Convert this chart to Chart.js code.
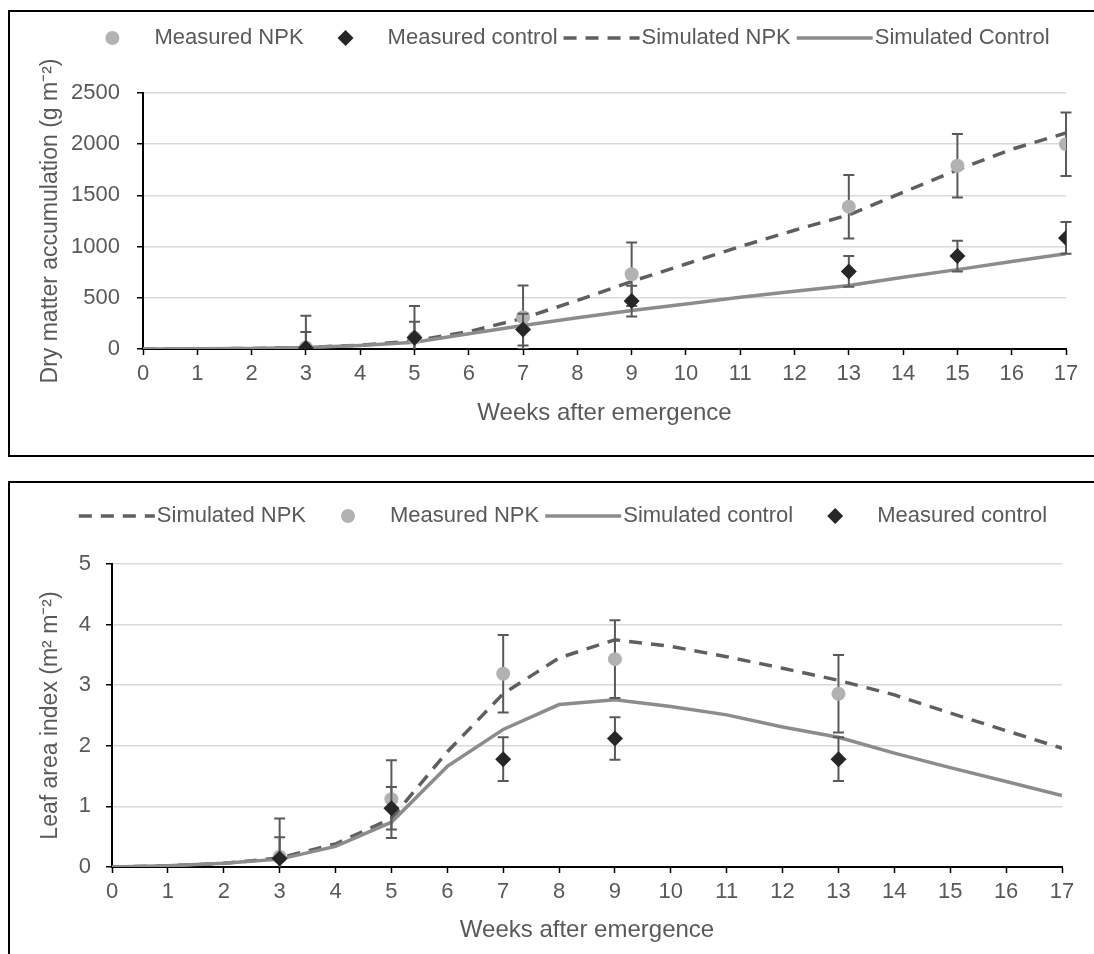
<!DOCTYPE html>
<html>
<head>
<meta charset="utf-8">
<script src="https://cdn.jsdelivr.net/npm/chart.js@4.4.1/dist/chart.umd.min.js"></script>
<style>
html, body { margin: 0; padding: 0; background: #fff; overflow: hidden; }
body { width: 1094px; height: 954px; position: relative; }
.box { position: absolute; border: 2px solid #000; box-sizing: border-box; }
canvas { position: absolute; }
</style>
</head>
<body>
<div class="box" style="left:8px;top:10px;width:1100px;height:447px"></div>
<div class="box" style="left:8px;top:481px;width:1100px;height:500px"></div>
<canvas id="dm" width="1084" height="442" style="left:10px;top:12px"></canvas>
<canvas id="lai" width="1084" height="470" style="left:10px;top:484px"></canvas>
<script>
// weeks after emergence for the simulated curves
const weeks = [0, 1, 2, 3, 4, 5, 6, 7, 8, 9, 10, 11, 12, 13, 14, 15, 16, 17];

// dry matter (g m-2)
const simNpkDm = [0, 2, 5, 15, 38, 78, 170, 300, 475, 660, 830, 1000, 1160, 1310, 1530, 1750, 1950, 2110];
const simCtrlDm = [0, 2, 5, 15, 35, 65, 148, 230, 305, 375, 440, 505, 565, 620, 700, 775, 855, 930];
const measDmWeeks = [3, 5, 7, 9, 13, 15, 17];
const measNpkDm = [15, 110, 310, 730, 1390, 1790, 2000];
const measNpkDmErr = [310, 310, 310, 310, 310, 310, 310];
const measCtrlDm = [10, 110, 190, 468, 758, 908, 1085];
const measCtrlDmErr = [155, 155, 155, 150, 150, 150, 155];

// leaf area index (m2 m-2)
const simNpkLai = [0, 0.02, 0.06, 0.15, 0.38, 0.8, 1.9, 2.86, 3.45, 3.75, 3.64, 3.47, 3.28, 3.08, 2.84, 2.54, 2.25, 1.96];
const simCtrlLai = [0, 0.02, 0.06, 0.13, 0.34, 0.74, 1.66, 2.27, 2.68, 2.76, 2.65, 2.51, 2.31, 2.14, 1.88, 1.64, 1.41, 1.18];
const measLaiWeeks = [3, 5, 7, 9, 13];
const measNpkLai = [0.17, 1.12, 3.19, 3.43, 2.86];
const measNpkLaiErr = [0.63, 0.64, 0.64, 0.64, 0.64];
const measCtrlLai = [0.14, 0.97, 1.78, 2.12, 1.78];
const measCtrlLaiErr = [0.35, 0.35, 0.36, 0.35, 0.36];

const FONT = "Arial, 'Liberation Sans', sans-serif";
const TEXT = '#595959';
Chart.defaults.font.family = FONT;
Chart.defaults.font.size = 22;
Chart.defaults.color = TEXT;

const pts = (xs, ys) => xs.map((x, i) => ({ x: x, y: ys[i] }));

const npkPoint = (label, xs, ys, errs) => ({
    label, data: pts(xs, ys), errors: errs,
    pointStyle: 'circle', pointRadius: 7, backgroundColor: '#b2b2b2', borderColor: '#b2b2b2', borderWidth: 0
});
const ctrlPoint = (label, xs, ys, errs) => ({
    label, data: pts(xs, ys), errors: errs,
    pointStyle: 'rectRot', pointRadius: 8, backgroundColor: '#262626', borderColor: '#262626', borderWidth: 0
});
const npkLine = (label, ys) => ({
    label, data: pts(weeks, ys), showLine: true, pointRadius: 0,
    borderColor: '#5f5f5f', borderWidth: 3.5, borderDash: [13, 9], tension: 0
});
const ctrlLine = (label, ys) => ({
    label, data: pts(weeks, ys), showLine: true, pointRadius: 0,
    borderColor: '#8c8c8c', borderWidth: 3.5, tension: 0
});

// error bars, drawn just under each measured series
const errorBars = {
    id: 'errorBars',
    beforeDatasetDraw(chart, args) {
        const ds = chart.data.datasets[args.index];
        if (!ds.errors) return;
        const xs = chart.scales.x, ys = chart.scales.y, a = chart.chartArea;
        const ctx = chart.ctx;
        ctx.save();
        ctx.beginPath();
        ctx.rect(a.left - 20, a.top, a.right - a.left + 40, a.bottom - a.top);
        ctx.clip();
        ctx.strokeStyle = '#595959';
        ctx.lineWidth = 2;
        ds.data.forEach((p, i) => {
            const px = xs.getPixelForValue(p.x);
            const top = ys.getPixelForValue(p.y + ds.errors[i]);
            const bot = ys.getPixelForValue(p.y - ds.errors[i]);
            ctx.beginPath();
            ctx.moveTo(px, top); ctx.lineTo(px, bot);
            ctx.moveTo(px - 5.5, top); ctx.lineTo(px + 5.5, top);
            ctx.moveTo(px - 5.5, bot); ctx.lineTo(px + 5.5, bot);
            ctx.stroke();
        });
        ctx.restore();
    }
};

// legend in the excel style: marker slot then label
const seriesLegend = {
    id: 'seriesLegend',
    afterDraw(chart, args, opts) {
        const ctx = chart.ctx;
        const slot = 82, gap = 2;
        ctx.save();
        ctx.font = '22px ' + FONT;
        const items = opts.order.map(i => chart.data.datasets[i]);
        const widths = items.map(ds => slot + ctx.measureText(ds.label).width);
        const total = widths.reduce((a, b) => a + b, 0) + gap * (widths.length - 1);
        let x = opts.centerX - total / 2;
        const y = opts.y;
        items.forEach((ds, i) => {
            if (ds.showLine) {
                ctx.strokeStyle = ds.borderColor;
                ctx.lineWidth = ds.borderWidth;
                ctx.setLineDash(ds.borderDash || []);
                ctx.beginPath();
                ctx.moveTo(x + 4, y); ctx.lineTo(x + 80, y);
                ctx.stroke();
                ctx.setLineDash([]);
            } else {
                ctx.fillStyle = ds.backgroundColor;
                ctx.beginPath();
                const cx = x + 40;
                if (ds.pointStyle === 'circle') {
                    ctx.arc(cx, y, ds.pointRadius, 0, Math.PI * 2);
                } else {
                    const r = ds.pointRadius;
                    ctx.moveTo(cx, y - r); ctx.lineTo(cx + r, y);
                    ctx.lineTo(cx, y + r); ctx.lineTo(cx - r, y);
                    ctx.closePath();
                }
                ctx.fill();
            }
            ctx.fillStyle = TEXT;
            ctx.textAlign = 'left';
            ctx.textBaseline = 'middle';
            ctx.fillText(ds.label, x + slot, y);
            x += widths[i] + gap;
        });
        ctx.restore();
    }
};

function scales(yMax, yStep, yTitle, yWidth, yPad, xHeight, xTitlePad) {
    return {
        x: {
            type: 'linear', min: 0, max: 17,
            afterFit: s => { s.height = xHeight; },
            ticks: { stepSize: 1, padding: 6 },
            grid: { drawOnChartArea: false, tickLength: 6, tickColor: '#000', tickWidth: 1.5 },
            border: { color: '#000', width: 2 },
            title: { display: true, text: 'Weeks after emergence', font: { size: 24 }, padding: { top: 0, bottom: xTitlePad } }
        },
        y: {
            min: 0, max: yMax,
            afterFit: s => { s.width = yWidth; },
            ticks: { stepSize: yStep, padding: yPad, format: { useGrouping: false } },
            grid: { color: '#d9d9d9', lineWidth: 1.5, tickLength: 6, tickColor: '#000', tickWidth: 1.5 },
            border: { color: '#000', width: 2 },
            title: { display: true, text: yTitle, font: { size: 23 }, padding: { top: 27, bottom: 0 } }
        }
    };
}

function makeChart(id, datasets, legendOrder, legendY, padding, sc) {
    return new Chart(document.getElementById(id), {
        type: 'scatter',
        data: { datasets },
        options: {
            responsive: false,
            animation: false,
            devicePixelRatio: 1,
            layout: { padding },
            plugins: {
                legend: { display: false },
                tooltip: { enabled: false },
                seriesLegend: { order: legendOrder, y: legendY, centerX: 551 }
            },
            scales: sc
        },
        plugins: [errorBars, seriesLegend]
    });
}

// datasets: index 0 is drawn on top
makeChart('dm', [
    ctrlPoint('Measured control', measDmWeeks, measCtrlDm, measCtrlDmErr),
    npkPoint('Measured NPK', measDmWeeks, measNpkDm, measNpkDmErr),
    ctrlLine('Simulated Control', simCtrlDm),
    npkLine('Simulated NPK', simNpkDm)
], [1, 0, 3, 2], 26, { top: 81, right: 28, bottom: 0, left: 0 },
    scales(2500, 500, 'Dry matter accumulation (g m\u207B\u00B2)', 133, 17, 105, 26));

makeChart('lai', [
    ctrlPoint('Measured control', measLaiWeeks, measCtrlLai, measCtrlLaiErr),
    npkPoint('Measured NPK', measLaiWeeks, measNpkLai, measNpkLaiErr),
    ctrlLine('Simulated control', simCtrlLai),
    npkLine('Simulated NPK', simNpkLai)
], [3, 1, 2, 0], 32, { top: 80, right: 32, bottom: 0, left: 0 },
    scales(5, 1, 'Leaf area index (m\u00B2 m\u207B\u00B2)', 102, 15, 87, 9));
</script>
</body>
</html>
